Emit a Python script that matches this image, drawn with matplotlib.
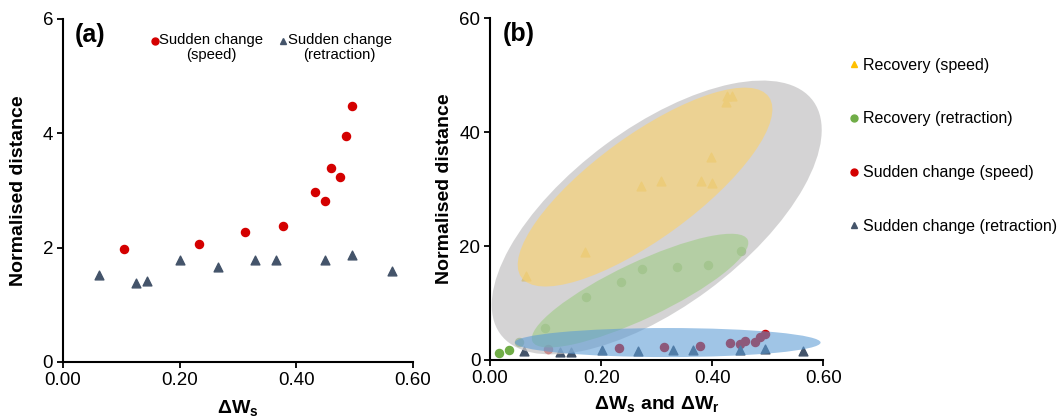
import matplotlib
matplotlib.use("Agg")
import matplotlib.pyplot as plt
from matplotlib.patches import Ellipse
from matplotlib.lines import Line2D

plt.rcParams['font.family'] = ['Liberation Sans', 'DejaVu Sans']
plt.rcParams['mathtext.fontset'] = 'custom'
plt.rcParams['mathtext.rm'] = 'Liberation Sans'
plt.rcParams['mathtext.bf'] = 'Liberation Sans:bold'

# sudden change (speed) - red circles
sc_speed_x = [0.105, 0.233, 0.313, 0.378, 0.432, 0.450, 0.459, 0.476, 0.485, 0.495]
sc_speed_y = [1.97, 2.06, 2.27, 2.37, 2.97, 2.82, 3.40, 3.23, 3.96, 4.48]

# sudden change (retraction) - dark triangles
sc_retr_x = [0.061, 0.126, 0.145, 0.201, 0.266, 0.330, 0.366, 0.450, 0.495, 0.564]
sc_retr_y = [1.52, 1.38, 1.42, 1.78, 1.66, 1.79, 1.79, 1.79, 1.87, 1.60]

# recovery (speed) - yellow triangles
rec_speed_x = [0.064, 0.171, 0.271, 0.307, 0.380, 0.398, 0.400, 0.424, 0.426, 0.435]
rec_speed_y = [14.8, 19.0, 30.6, 31.5, 31.5, 35.6, 31.0, 45.3, 46.3, 46.4]

# recovery (retraction) - green circles
rec_retr_x = [0.017, 0.035, 0.052, 0.099, 0.172, 0.236, 0.274, 0.337, 0.393, 0.452]
rec_retr_y = [1.3, 1.7, 3.2, 5.6, 11.1, 13.7, 15.9, 16.4, 16.7, 19.2]

red = '#D40000'
navy = '#44546A'
yellow = '#FFC000'
green = '#70AD47'

fig = plt.figure(figsize=(10.6, 4.18), dpi=100)
ax1 = fig.add_axes([0.0594, 0.134, 0.330, 0.8206])
ax2 = fig.add_axes([0.4623, 0.1388, 0.3145, 0.8175])

def style(ax):
    ax.spines['top'].set_visible(False)
    ax.spines['right'].set_visible(False)
    ax.spines['left'].set_linewidth(1.5)
    ax.spines['bottom'].set_linewidth(1.5)
    ax.tick_params(direction='out', length=4, width=1.3, labelsize=13.5, pad=3)
    ax.set_xlim(0, 0.6)
    ax.set_xticks([0, 0.2, 0.4, 0.6])
    ax.set_xticklabels(['0.00', '0.20', '0.40', '0.60'])

# ---- panel (a) ----
style(ax1)
ax1.set_ylim(0, 6)
ax1.set_yticks([0, 2, 4, 6])
ax1.scatter(sc_speed_x, sc_speed_y, s=34, marker='o', color=red, zorder=3)
ax1.scatter(sc_retr_x, sc_retr_y, s=40, marker='^', color=navy, zorder=3)
ax1.set_ylabel('Normalised distance', fontsize=14, fontweight='bold')
ax1.yaxis.set_label_coords(-0.103, 0.5)
ax1.set_xlabel(r'ΔW$_\mathbf{s}$', fontsize=14, fontweight='bold', labelpad=7)
ax1.text(0.034, 0.953, '(a)', transform=ax1.transAxes, fontsize=18,
         fontweight='bold', va='center', ha='left')

# legend of (a), drawn by hand: marker next to first line, text centred
leg_a = [(0.263, red, 'o', 'Sudden change\n(speed)'),
         (0.630, navy, '^', 'Sudden change\n(retraction)')]
for lx, col, mk, lab in leg_a:
    ax1.plot([lx], [0.935], marker=mk, color=col, markersize=5,
             transform=ax1.transAxes, clip_on=False, linestyle='none')
    ax1.text(lx + 0.012, 0.960, lab, transform=ax1.transAxes, fontsize=10.7,
             va='top', ha='left', multialignment='center', linespacing=1.1)

# ---- panel (b) ----
style(ax2)
ax2.set_ylim(0, 60)
ax2.set_yticks([0, 20, 40, 60])
ax2.scatter(rec_speed_x, rec_speed_y, s=40, marker='^', color=yellow, zorder=1)
ax2.scatter(rec_retr_x, rec_retr_y, s=34, marker='o', color=green, zorder=1)
ax2.scatter(sc_speed_x, sc_speed_y, s=34, marker='o', color=red, zorder=1)
ax2.scatter(sc_retr_x, sc_retr_y, s=40, marker='^', color=navy, zorder=1)

ellipses = [
    ((0.500, 0.417), 1.160, 0.526, 35.8, '#C4C3C4', 0.72),
    ((0.465, 0.506), 0.911, 0.304, 35.3, '#FAD270', 0.65),
    ((0.450, 0.203), 0.711, 0.165, 24.7, '#9FCC85', 0.60),
    ((0.533, 0.051), 0.917, 0.085, 0.0, '#5B9BD5', 0.58),
]
for i, (c, w, h, ang, col, a) in enumerate(ellipses):
    ax2.add_patch(Ellipse(c, w, h, angle=ang, transform=ax2.transAxes,
                          facecolor=col, edgecolor='none', alpha=a,
                          zorder=2 + i, clip_on=False))

ax2.set_ylabel('Normalised distance', fontsize=14, fontweight='bold')
ax2.yaxis.set_label_coords(-0.111, 0.5)
ax2.set_xlabel(r'ΔW$_\mathbf{s}$ and ΔW$_\mathbf{r}$', fontsize=14,
               fontweight='bold', labelpad=6)
ax2.text(0.039, 0.955, '(b)', transform=ax2.transAxes, fontsize=18,
         fontweight='bold', va='center', ha='left')

handles = [
    Line2D([], [], marker='^', color=yellow, linestyle='none', markersize=5),
    Line2D([], [], marker='o', color=green, linestyle='none', markersize=5),
    Line2D([], [], marker='o', color=red, linestyle='none', markersize=5),
    Line2D([], [], marker='^', color=navy, linestyle='none', markersize=5),
]
labels = ['Recovery (speed)', 'Recovery (retraction)',
          'Sudden change (speed)', 'Sudden change (retraction)']
fig.legend(handles, labels, loc='upper left', bbox_to_anchor=(0.795, 0.877),
           frameon=False, fontsize=11.5, labelspacing=2.42,
           handlelength=0.6, handletextpad=0.3, borderaxespad=0)

fig.savefig('out.png', dpi=100)
